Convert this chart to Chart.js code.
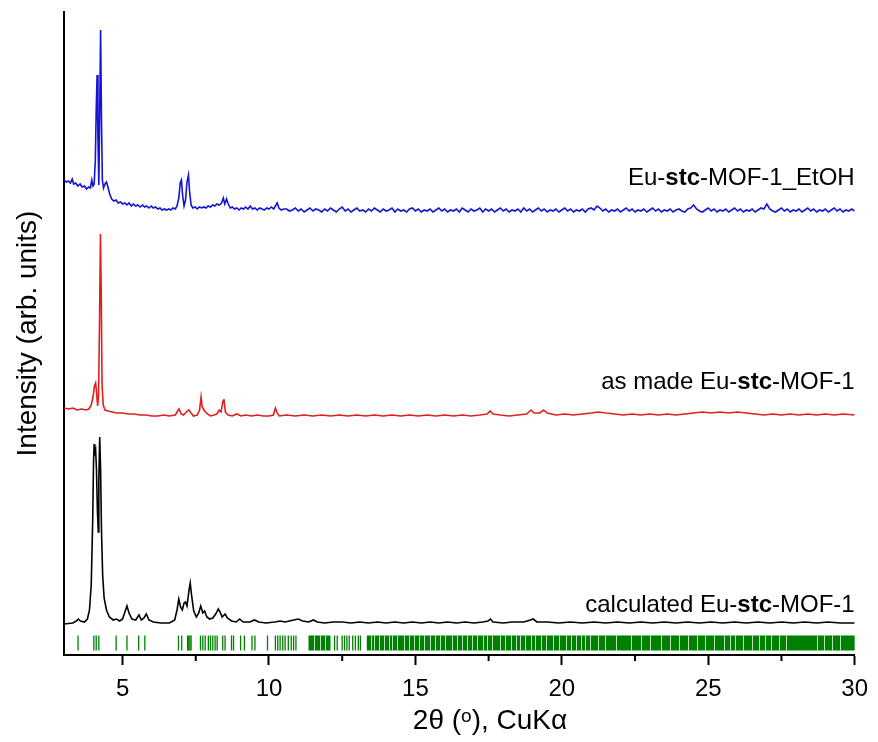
<!DOCTYPE html>
<html>
<head>
<meta charset="utf-8">
<script src="https://cdn.jsdelivr.net/npm/chart.js@4.4.1/dist/chart.umd.min.js"></script>
<style>
  html, body { margin: 0; padding: 0; background: #fff; }
</style>
</head>
<body>
<canvas id="xrd" width="878" height="742"></canvas>
<script>
// 2theta / intensity pairs (arb. units, stacked)
const etohPattern = [
  [3.00,475],[3.08,473],[3.15,474],[3.22,472],[3.28,476],[3.33,471],[3.40,472],[3.47,469],[3.55,471],[3.62,468],
  [3.70,469],[3.77,466],[3.84,468],[3.90,467],[3.95,475],[3.99,469],[4.03,471],[4.07,495],[4.10,545],[4.13,580],
  [4.16,515],[4.19,470],[4.22,545],[4.25,625],[4.28,535],[4.31,475],[4.35,467],[4.40,471],[4.45,473],[4.50,468],
  [4.56,461],[4.63,456],[4.70,454],[4.78,455],[4.85,452],[4.93,453],[5.00,451],[5.08,452],[5.15,450],[5.22,452],
  [5.30,449],[5.37,451],[5.45,449],[5.52,450],[5.60,448],[5.68,450],[5.75,448],[5.82,449],[5.90,447],[5.98,449],
  [6.05,447],[6.13,448],[6.20,446],[6.28,447],[6.35,445],[6.43,446],[6.50,445],[6.58,446],[6.65,445],[6.72,447],
  [6.80,446],[6.86,449],[6.92,457],[6.97,472],[7.01,475],[7.05,460],[7.10,449],[7.15,455],[7.20,473],[7.25,480],
  [7.29,463],[7.34,450],[7.40,447],[7.48,448],[7.55,446],[7.62,448],[7.70,447],[7.78,448],[7.85,447],[7.92,449],
  [8.00,448],[8.08,450],[8.15,449],[8.22,451],[8.30,450],[8.38,452],[8.44,457],[8.49,451],[8.55,456],[8.61,451],
  [8.68,447],[8.75,448],[8.82,446],[8.90,447],[8.98,445],[9.05,447],[9.13,446],[9.20,448],[9.28,446],[9.36,449],
  [9.44,446],[9.52,447],[9.60,445],[9.68,447],[9.76,446],[9.84,445],[9.92,447],[10.00,446],[10.08,448],[10.16,446],
  [10.22,449],[10.28,452],[10.34,447],[10.42,445],[10.50,446],
  [10.6,446],[10.7,444],[10.8,445],[10.9,447],[11.0,444],[11.1,446],[11.2,443],[11.3,445],[11.4,447],[11.5,444],
  [11.6,446],[11.7,445],[11.8,443],[11.9,446],[12.0,444],[12.1,447],[12.2,445],[12.3,443],[12.4,446],[12.5,448],
  [12.6,444],[12.7,446],[12.8,443],[12.9,445],[13.0,447],[13.1,444],[13.2,445],[13.3,443],[13.4,446],[13.5,444],
  [13.6,447],[13.7,445],[13.8,443],[13.9,446],[14.0,444],[14.1,445],[14.2,447],[14.3,443],[14.4,446],[14.5,444],
  [14.6,445],[14.7,443],[14.8,446],[14.9,447],[15.0,444],[15.1,446],[15.2,443],[15.3,445],[15.4,444],[15.5,446],
  [15.6,443],[15.7,445],[15.8,447],[15.9,444],[16.0,446],[16.1,443],[16.2,445],[16.3,444],[16.4,446],[16.5,443],
  [16.6,447],[16.7,445],[16.8,443],[16.9,446],[17.0,444],[17.1,445],[17.2,447],[17.3,443],[17.4,446],[17.5,444],
  [17.6,446],[17.7,443],[17.8,445],[17.9,447],[18.0,444],[18.1,446],[18.2,443],[18.3,445],[18.4,444],[18.5,446],
  [18.6,443],[18.7,447],[18.8,444],[18.9,446],[19.0,443],[19.1,445],[19.2,447],[19.3,444],[19.4,446],[19.5,443],
  [19.6,445],[19.7,444],[19.8,446],[19.9,443],[20.0,445],[20.1,447],[20.2,444],[20.3,446],[20.4,443],[20.5,445],
  [20.6,444],[20.7,446],[20.8,443],[20.9,446],[21.0,447],[21.1,445],[21.2,449],[21.3,447],[21.4,444],[21.5,446],
  [21.6,443],[21.7,445],[21.8,444],[21.9,446],[22.0,443],[22.1,445],[22.2,447],[22.3,444],[22.4,446],[22.5,443],
  [22.6,445],[22.7,444],[22.8,446],[22.9,443],[23.0,445],[23.1,447],[23.2,444],[23.3,446],[23.4,443],[23.5,445],
  [23.6,444],[23.7,446],[23.8,443],[23.9,445],[24.0,446],[24.1,444],[24.2,443],[24.3,446],[24.4,447],[24.5,450],
  [24.6,446],[24.7,444],[24.8,443],[24.9,445],[25.0,447],[25.1,444],[25.2,446],[25.3,443],[25.4,445],[25.5,444],
  [25.6,446],[25.7,443],[25.8,445],[25.9,447],[26.0,444],[26.1,446],[26.2,443],[26.3,445],[26.4,444],[26.5,446],
  [26.6,443],[26.7,445],[26.8,447],[26.9,446],[27.0,451],[27.1,446],[27.2,444],[27.3,443],[27.4,445],[27.5,447],
  [27.6,444],[27.7,446],[27.8,443],[27.9,445],[28.0,444],[28.1,446],[28.2,443],[28.3,445],[28.4,447],[28.5,444],
  [28.6,446],[28.7,443],[28.8,445],[28.9,444],[29.0,446],[29.1,443],[29.2,445],[29.3,447],[29.4,444],[29.5,446],
  [29.6,443],[29.7,445],[29.8,444],[29.9,446],[30.0,444]
];

const asMadePattern = [
  [3.00,247],[3.15,246],[3.30,247],[3.45,245],[3.60,246],[3.75,245],[3.85,246],[3.93,250],[3.99,258],[4.04,269],
  [4.08,272],[4.11,263],[4.15,249],[4.18,260],[4.21,325],[4.245,421],[4.27,365],[4.30,270],[4.34,250],[4.40,245],
  [4.50,244],[4.65,243],[4.80,242],[5.00,242],[5.20,241],[5.40,241],[5.60,240],[5.80,240],[6.00,239],[6.20,239],
  [6.40,240],[6.60,239],[6.80,240],[6.88,244],[6.93,246],[7.00,241],[7.08,240],[7.18,243],[7.26,245],[7.34,242],
  [7.42,239],[7.55,240],[7.63,245],[7.68,258],[7.72,248],[7.80,244],[7.90,241],[8.00,239],[8.12,240],[8.22,241],
  [8.30,245],[8.36,243],[8.43,254],[8.46,256],[8.51,243],[8.60,240],[8.75,239],[8.90,241],[9.05,239],[9.20,240],
  [9.40,239],[9.60,240],[9.80,239],[10.00,239],[10.15,240],[10.22,247],[10.28,242],[10.35,239],[10.60,240],[10.90,239],
  [11.20,240],[11.50,239],[11.80,240],[12.10,239],[12.40,240],[12.70,239],[13.00,240],[13.30,239],[13.60,240],[13.90,239],
  [14.20,240],[14.50,239],[14.80,240],[15.10,239],[15.40,240],[15.70,239],[16.00,240],[16.30,239],[16.60,240],[16.90,239],
  [17.20,240],[17.45,241],[17.55,244],[17.65,241],[17.90,240],[18.20,239],[18.50,240],[18.80,241],[18.95,245],[19.05,242],
  [19.25,242],[19.38,245],[19.50,242],[19.80,240],[20.10,241],[20.40,240],[20.70,241],[21.00,242],[21.25,243],[21.50,242],
  [21.80,241],[22.10,240],[22.40,241],[22.70,240],[23.00,241],[23.30,240],[23.60,241],[23.90,240],[24.20,241],[24.50,242],
  [24.80,243],[25.10,242],[25.40,243],[25.70,242],[26.00,243],[26.30,242],[26.60,241],[26.90,240],[27.20,241],[27.50,240],
  [27.80,241],[28.10,240],[28.40,241],[28.70,240],[29.00,241],[29.30,240],[29.60,241],[30.00,240]
];

const calcPattern = [
  [3.00,31],[3.30,32],[3.42,34],[3.49,36],[3.56,34],[3.70,33],[3.80,36],[3.87,45],[3.93,70],[3.98,135],
  [4.01,195],[4.03,211],[4.05,202],[4.08,205],[4.11,185],[4.14,145],[4.17,123],[4.19,175],[4.22,218],[4.25,185],
  [4.28,125],[4.32,80],[4.37,57],[4.45,45],[4.55,38],[4.68,35],[4.79,36],[4.90,34],[5.00,36],[5.08,43],
  [5.15,49],[5.22,42],[5.32,36],[5.45,35],[5.56,40],[5.64,35],[5.73,37],[5.81,41],[5.90,35],[6.05,33],
  [6.30,32],[6.60,32],[6.78,35],[6.86,45],[6.92,56],[6.98,48],[7.04,45],[7.10,52],[7.15,53],[7.20,49],
  [7.27,65],[7.31,72],[7.36,59],[7.43,44],[7.52,38],[7.60,42],[7.67,49],[7.74,42],[7.80,44],[7.88,38],
  [7.97,36],[8.08,37],[8.18,41],[8.27,46],[8.33,43],[8.40,38],[8.50,41],[8.58,37],[8.72,34],[8.88,33],
  [9.00,36],[9.12,33],[9.35,33],[9.50,35],[9.65,33],[9.90,32],[10.20,33],[10.38,34],[10.55,33],[10.70,34],
  [10.85,35],[11.00,36],[11.15,34],[11.35,33],[11.52,35],[11.65,33],[11.90,32],[12.20,33],[12.50,33],[12.80,32],
  [13.10,33],[13.40,32],[13.70,33],[14.00,32],[14.30,33],[14.60,32],[14.90,33],[15.20,32],[15.50,33],[15.80,32],
  [16.10,33],[16.40,32],[16.70,33],[17.00,32],[17.30,33],[17.48,34],[17.56,36],[17.65,33],[18.00,32],[18.30,33],
  [18.70,33],[18.93,35],[19.02,36],[19.15,33],[19.50,33],[19.90,32],[20.30,33],[20.70,32],[21.10,33],[21.50,32],
  [21.90,33],[22.30,32],[22.70,33],[23.10,32],[23.50,33],[23.90,32],[24.30,33],[24.70,32],[25.10,33],[25.50,32],
  [25.90,33],[26.30,32],[26.70,33],[27.10,32],[27.50,33],[27.90,32],[28.30,33],[28.70,32],[29.10,33],[29.50,32],
  [30.00,32]
];

// calculated reflection positions (2theta)
const braggTicks = [3.48,4.02,4.10,4.19,4.78,5.15,5.55,5.76,6.91,7.02,7.22,7.26,7.30,7.34,7.66,7.74,7.82,
  7.93,8.00,8.08,8.16,8.23,8.42,8.50,8.72,8.79,9.03,9.16,9.42,9.52,9.95,10.22,10.30,10.38,10.47,10.55,
  10.66,10.76,10.84,10.92,12.24,12.33,12.50,12.58,12.66,12.74,12.86,12.95,13.05,13.12];
// regions where reflections merge into a solid band, and the thin gaps inside them
const braggBands = [[11.35,12.10],[13.34,30.00]];
const braggGaps = [11.55,11.75,11.92,13.47,13.58,13.75,13.92,14.09,14.20,14.37,14.60,14.77,14.94,15.11,15.28,
  15.51,15.68,15.85,16.02,16.24,16.41,16.58,16.75,16.92,17.09,17.32,17.43,17.60,17.89,18.06,18.28,18.45,
  18.57,18.74,18.96,19.07,19.30,19.47,19.70,19.92,20.15,20.32,20.49,20.66,20.80,20.96,21.24,21.46,21.84,
  22.35,22.69,23.00,23.37,23.71,24.00,24.30,24.63,24.90,25.20,25.54,25.74,25.93,26.20,26.50,26.73,26.94,
  27.13,27.41,27.64,28.71,28.94,29.22,29.50];

const majorTicks = [5, 10, 15, 20, 25, 30];
const minorTicks = [7.5, 12.5, 17.5, 22.5, 27.5];

const seriesNames = ['Eu-stc-MOF-1_EtOH', 'as made Eu-stc-MOF-1', 'calculated Eu-stc-MOF-1'];
const seriesColors = ['#1414d2', '#e0201e', '#000000'];

const toPts = arr => arr.map(p => ({ x: p[0], y: p[1] }));

const FONT = "'Liberation Sans', Arial, sans-serif";
const NARROW = "'Liberation Sans Narrow', 'Arial Narrow', 'Liberation Sans', sans-serif";
const xTitle = '2θ (ᵒ), CuKα';

// curve labels: pieces [text, bold]
const curveLabels = [
  { y: 477, parts: [['Eu-', false], ['stc', true], ['-MOF-1_EtOH', false]] },
  { y: 273, parts: [['as made Eu-', false], ['stc', true], ['-MOF-1', false]] },
  { y: 50,  parts: [['calculated Eu-', false], ['stc', true], ['-MOF-1', false]] }
];

const extras = {
  id: 'extras',
  beforeDatasetsDraw(chart) {
    const { ctx, scales: { x, y } } = chart;
    const top = y.getPixelForValue(19.5), bot = y.getPixelForValue(4.5);
    ctx.save();
    ctx.fillStyle = '#008000';
    braggBands.forEach(b => {
      const x0 = x.getPixelForValue(b[0]), x1 = x.getPixelForValue(b[1]);
      ctx.fillRect(x0, top, x1 - x0, bot - top);
    });
    ctx.strokeStyle = 'rgba(255,255,255,0.75)';
    ctx.lineWidth = 1;
    braggGaps.forEach(g => {
      const px = Math.round(x.getPixelForValue(g)) + 0.5;
      ctx.beginPath(); ctx.moveTo(px, top); ctx.lineTo(px, bot); ctx.stroke();
    });
    ctx.restore();
  },
  afterDraw(chart) {
    const { ctx, scales: { x, y } } = chart;
    ctx.save();
    // minor ticks
    ctx.strokeStyle = '#000';
    ctx.lineWidth = 2;
    minorTicks.forEach(v => {
      const px = x.getPixelForValue(v);
      ctx.beginPath(); ctx.moveTo(px, x.top); ctx.lineTo(px, x.top + 6); ctx.stroke();
    });
    // x axis title (sits a little right of centre in the original)
    ctx.fillStyle = '#000';
    ctx.font = '28px ' + FONT;
    ctx.textAlign = 'center';
    ctx.textBaseline = 'middle';
    ctx.fillText(xTitle, 490, 721);
    // curve labels, right aligned
    ctx.textAlign = 'left';
    curveLabels.forEach(l => {
      const fonts = l.parts.map(p => (p[1] ? 'bold ' : '') + '24px ' + FONT);
      let w = 0;
      l.parts.forEach((p, i) => { ctx.font = fonts[i]; w += ctx.measureText(p[0]).width; });
      let cx = chart.chartArea.right - w;
      const cy = y.getPixelForValue(l.y);
      l.parts.forEach((p, i) => {
        ctx.font = fonts[i];
        ctx.fillText(p[0], cx, cy);
        cx += ctx.measureText(p[0]).width;
      });
    });
    ctx.restore();
  }
};

new Chart(document.getElementById('xrd'), {
  type: 'line',
  data: {
    datasets: [
      { label: seriesNames[0], data: toPts(etohPattern), borderColor: seriesColors[0], borderWidth: 1.6 },
      { label: seriesNames[1], data: toPts(asMadePattern), borderColor: seriesColors[1], borderWidth: 1.6 },
      { label: seriesNames[2], data: toPts(calcPattern), borderColor: seriesColors[2], borderWidth: 1.6 },
      {
        label: 'reflections', type: 'scatter', data: braggTicks.map(v => ({ x: v, y: 12 })),
        pointStyle: 'line', rotation: 90, pointRadius: 7.5, pointHoverRadius: 7.5,
        borderColor: '#008000', borderWidth: 1.3, showLine: false
      }
    ]
  },
  options: {
    responsive: false,
    animation: false,
    events: [],
    elements: { point: { radius: 0 }, line: { tension: 0 } },
    layout: { padding: { top: 12, right: 20, left: 0, bottom: 0 } },
    plugins: { legend: { display: false }, tooltip: { enabled: false } },
    scales: {
      x: {
        type: 'linear', min: 3, max: 30,
        afterBuildTicks: s => { s.ticks = majorTicks.map(v => ({ value: v })); },
        afterFit: s => { s.height = 87; },
        border: { display: true, color: '#000', width: 2 },
        grid: { display: true, drawOnChartArea: false, drawTicks: true, tickLength: 10, tickWidth: 2, tickColor: '#000' },
        ticks: { color: '#000', padding: 10, font: { family: NARROW, size: 24 } },
        title: { display: false }
      },
      y: {
        min: 0, max: 643,
        afterFit: s => { s.width = 64; },
        border: { display: true, color: '#000', width: 2 },
        grid: { display: false },
        ticks: { display: false },
        title: { display: true, text: 'Intensity (arb. units)', color: '#000', padding: { top: 11, bottom: 0 }, font: { family: FONT, size: 28 } }
      }
    }
  },
  plugins: [extras]
});
</script>
</body>
</html>
